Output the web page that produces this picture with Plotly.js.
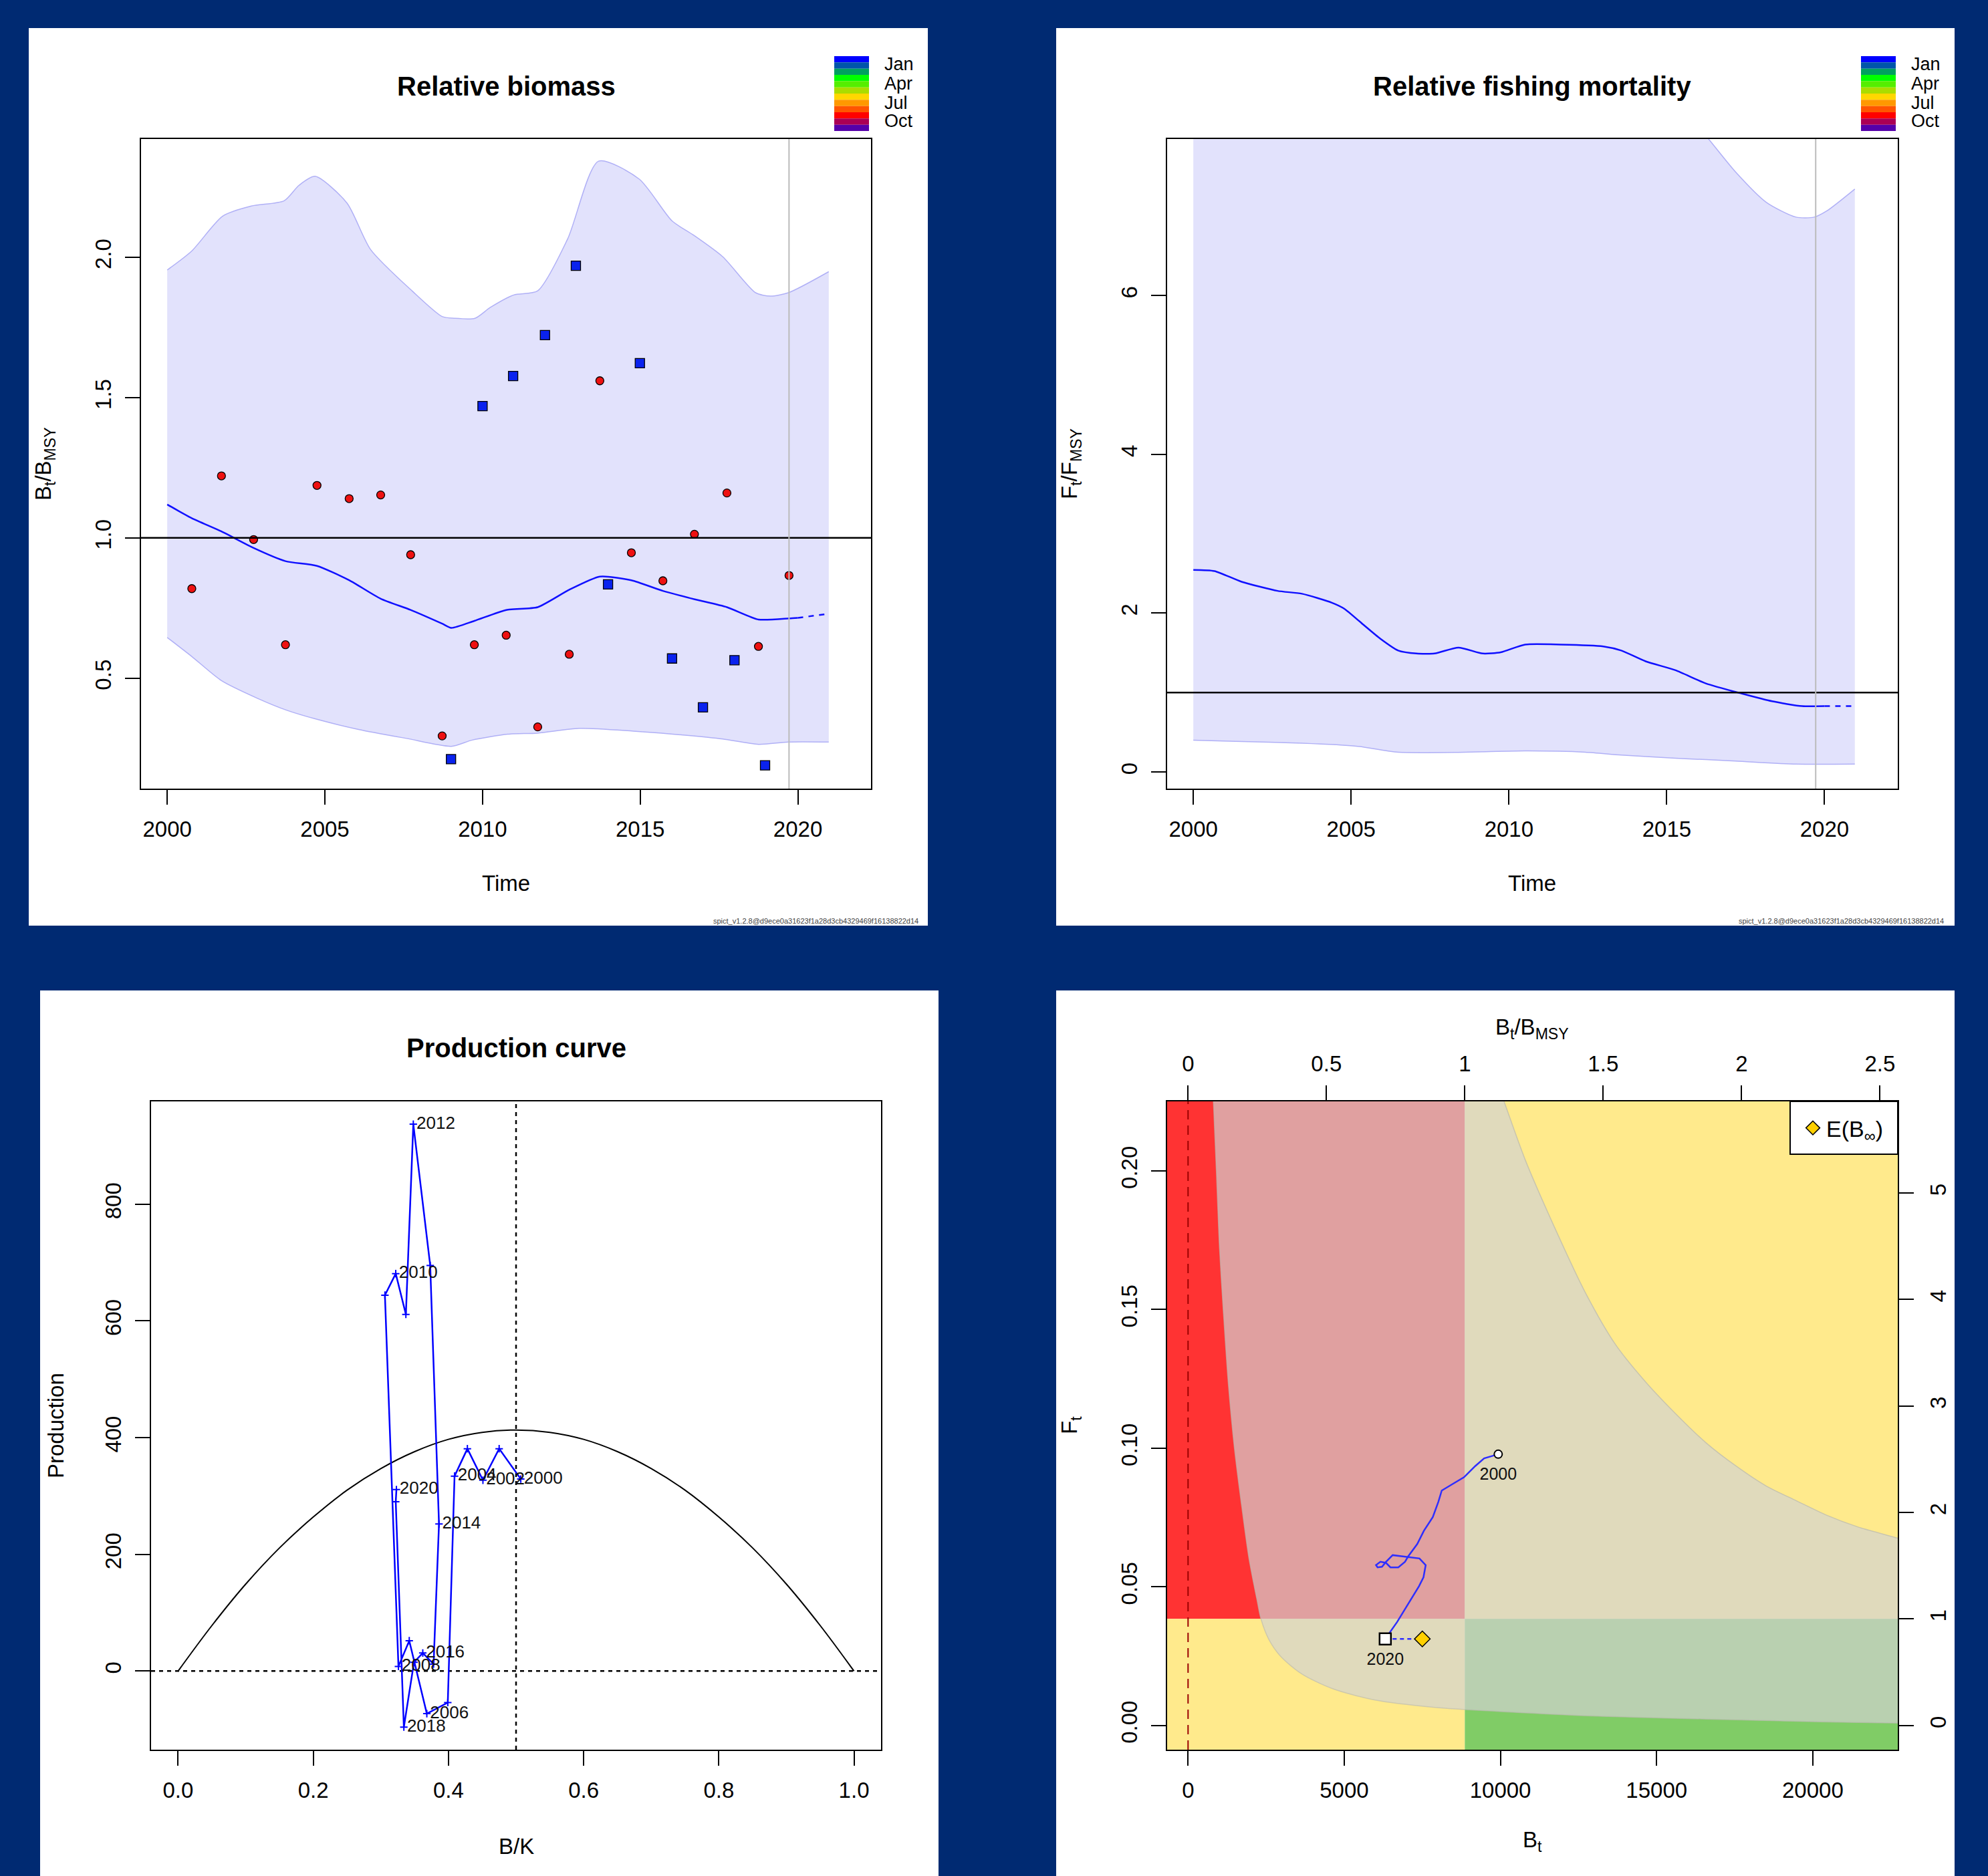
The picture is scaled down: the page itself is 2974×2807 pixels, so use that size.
<!DOCTYPE html>
<html><head><meta charset="utf-8">
<script src="https://cdn.plot.ly/plotly-3.0.1.min.js"></script>
<style>html,body{margin:0;padding:0;background:#002A72;}</style>
</head><body><div id="chart" style="width:2974px;height:2807px;"></div>
<script>
// ---------------- DATA ----------------
// Panel 1: relative biomass B_t/B_MSY
const BIO_T   = [2000.0,2000.78,2001.72,2002.74,2003.75,2004.75,2005.77,2006.77,2007.72,2008.72,2009.01,2009.74,2010.75,2011.75,2012.75,2013.72,2014.72,2015.72,2016.73,2017.75,2018.75,2019.72,2020.0];
const BIO_MED = [1.119,1.070,1.023,0.964,0.917,0.900,0.849,0.783,0.743,0.694,0.679,0.704,0.743,0.753,0.815,0.862,0.849,0.811,0.781,0.753,0.709,0.713,0.715];
const BIO_FC_T = [2020.0,2020.45,2020.9];
const BIO_FC   = [0.715,0.722,0.728];
const BIO_UP_T = [2000.0,2000.78,2001.76,2002.67,2003.71,2004.18,2004.69,2005.70,2006.45,2007.78,2008.72,2009.10,2009.76,2010.24,2010.99,2011.75,2012.70,2013.68,2014.97,2016.01,2016.67,2017.62,2018.66,2019.13,2019.70,2020.98];
const BIO_UP   = [1.955,2.023,2.147,2.183,2.202,2.257,2.289,2.194,2.028,1.879,1.789,1.783,1.783,1.821,1.866,1.881,2.066,2.343,2.279,2.130,2.081,2.002,1.874,1.862,1.874,1.949];
const BIO_LO_T = [2000.0,2000.78,2001.72,2002.86,2003.80,2004.75,2006.07,2007.59,2009.01,2009.67,2010.80,2011.75,2013.07,2014.78,2016.48,2017.62,2018.75,2019.70,2020.98];
const BIO_LO   = [0.645,0.577,0.491,0.428,0.385,0.353,0.317,0.285,0.257,0.279,0.300,0.304,0.321,0.311,0.296,0.283,0.264,0.272,0.272];
// autumn index (red circles)
const IDX1_T = [2000.78,2001.72,2002.74,2003.75,2004.75,2005.77,2006.77,2007.72,2008.72,2009.74,2010.75,2011.75,2012.75,2013.72,2014.72,2015.72,2016.72,2017.75,2018.75,2019.72];
const IDX1   = [0.819,1.221,0.994,0.619,1.187,1.140,1.153,0.940,0.294,0.619,0.653,0.326,0.585,1.560,0.947,0.847,1.013,1.160,0.613,0.866];
// winter index (blue squares)
const IDX2_T = [2009.0,2010.0,2010.97,2011.98,2012.96,2013.98,2014.99,2016.01,2016.99,2017.99,2018.96];
const IDX2   = [0.211,1.470,1.577,1.723,1.970,0.834,1.623,0.570,0.396,0.564,0.189];
const LAST_OBS = 2019.72;

// Panel 2: relative fishing mortality F_t/F_MSY
const FF_T   = [2000.0,2000.67,2001.53,2002.67,2003.44,2004.39,2004.78,2005.35,2005.92,2006.49,2007.07,2007.64,2008.40,2009.17,2009.74,2010.51,2011.65,2012.99,2013.56,2014.33,2015.28,2016.24,2017.38,2018.34,2019.29,2020.0];
const FF_MED = [2.545,2.530,2.395,2.280,2.244,2.131,2.056,1.867,1.679,1.529,1.491,1.491,1.566,1.491,1.506,1.604,1.604,1.581,1.529,1.393,1.280,1.114,0.986,0.889,0.828,0.828];
const FF_FC_T = [2020.0,2020.85];
const FF_FC   = [0.828,0.828];
const FF_UP_T = [2000.0,2005.0,2010.0,2015.0,2016.33,2017.19,2018.15,2019.10,2019.67,2020.06,2020.96];
const FF_UP   = [12.0,11.0,10.0,8.6,7.97,7.553,7.176,6.988,6.988,7.063,7.342];
const FF_LO_T = [2000.0,2001.34,2003.44,2005.16,2006.49,2008.60,2010.51,2012.42,2013.56,2015.28,2017.19,2019.10,2020.96];
const FF_LO   = [0.399,0.384,0.361,0.324,0.248,0.248,0.264,0.248,0.211,0.173,0.136,0.098,0.098];

// Panel 3: production curve
const PC_BK = [0,0.05,0.1,0.15,0.2,0.25,0.3,0.35,0.4,0.45,0.5,0.55,0.6,0.65,0.7,0.75,0.8,0.85,0.9,0.95,1.0];
const PC_P  = [0,78,149,211,264,310,347,376,397,409,413,409,397,376,347,310,264,211,149,78,0];
const PT_YEAR = [2000,2001,2002,2003,2004,2005,2006,2007,2008,2009,2010,2011,2012,2013,2014,2015,2016,2017,2018,2019,2020];
const PT_BK = [0.507,0.475,0.451,0.428,0.409,0.399,0.368,0.342,0.326,0.306,0.322,0.337,0.348,0.373,0.386,0.378,0.362,0.349,0.334,0.322,0.323];
const PT_P  = [329,381,327,381,334,-54,-73,52,8,644,681,611,937,695,252,12,31,15,-96,290,311];

// Panel 4: kobe plot
const BMSY = 8860;
const FMSY = 0.0384;
const KB_B = [9930,9478,9192,8835,8478,8122,8015,7836,7551,7337,7051,6944,6730,6480,6338,6159,6017,6067,6209,6338,6551,7051,7408,7608,7537,7394,7122,6908,6694,6313];
const KB_F = [0.0978,0.0963,0.0935,0.0895,0.0871,0.0847,0.0807,0.0751,0.0702,0.0654,0.0610,0.0590,0.0570,0.0570,0.0586,0.0590,0.0578,0.0570,0.0572,0.0590,0.0614,0.0608,0.0602,0.0578,0.0534,0.0502,0.0453,0.0413,0.0373,0.0312];
const KB_YEARS = ['2000','2020'];
const EBINF_B = 7500, EBINF_F = 0.0312;
// band boundaries (lower-left curve A, upper-right curve C)
const KA_B = [773,811,907,1004,1139,1293,1486,1718,1950,2201,2336,2587,2973,3649,4614,5965,7896,10000,12722,16583,20444,23500];
const KA_F = [0.235,0.225,0.1998,0.1727,0.1477,0.1227,0.0998,0.079,0.0602,0.0456,0.0383,0.031,0.0248,0.0185,0.0133,0.0092,0.0065,0.005,0.0035,0.0023,0.00125,0.0007];
const KC_B = [9794,10116,10792,11757,12722,13687,14653,15618,16583,17548,18514,19479,20444,21409,22722,23500];
const KC_F = [0.235,0.225,0.204,0.179,0.156,0.1373,0.1238,0.1123,0.1019,0.0935,0.0863,0.081,0.0758,0.0717,0.0675,0.065];

const MONTHS = ['Jan','Apr','Jul','Oct'];
const SEASON_COLORS = ['#0000FF','#0055AA','#00A060','#00FF00','#55EE00','#AADD00','#FFD700','#FF9900','#FF5500','#FF0000','#AA0055','#5500AA'];
const VERSION = 'spict_v1.2.8@d9ece0a31623f1a28d3cb4329469f16138822d14';

// ---------------- LAYOUT HELPERS ----------------
const W = 2974, H = 2807;
const FONT = 'Liberation Sans, Arial, sans-serif';
const PX = x => x / W;
const PY = y => 1 - y / H;

const XR1 = [1999.17, 2022.32], YR1 = [0.106, 2.422];
const YR2 = [-0.211, 7.972];
const XR3 = [-0.04, 1.04], YR3 = [-134.7, 976];
const XR4 = [-670, 22721], YR4 = [-0.00875, 0.225];

function ax(extra) {
  return Object.assign({
    showgrid:false, zeroline:false, showline:true, linecolor:'black', linewidth:2, mirror:true,
    ticks:'outside', ticklen:22, tickwidth:2, tickcolor:'black', ticklabelstandoff:8,
    tickfont:{family:FONT, size:33, color:'black'}, fixedrange:true, tickmode:'array'
  }, extra);
}
function ticks(vals, fmt) { return {tickvals: vals, ticktext: vals.map(fmt)}; }

const BAND_LINE = {color:'#B0B0F6', width:1.5, shape:'spline', smoothing:0.7};
const BAND_FILL = 'rgb(226,226,252)';
const traces = [];

// Panel 1
traces.push({x:BIO_LO_T, y:BIO_LO, xaxis:'x', yaxis:'y', mode:'lines', line:BAND_LINE, hoverinfo:'skip', showlegend:false});
traces.push({x:BIO_UP_T, y:BIO_UP, xaxis:'x', yaxis:'y', mode:'lines', line:BAND_LINE, fill:'tonexty', fillcolor:BAND_FILL, hoverinfo:'skip', showlegend:false});
traces.push({x:BIO_T, y:BIO_MED, xaxis:'x', yaxis:'y', mode:'lines', line:{color:'#1010FF', width:2.5, shape:'spline', smoothing:0.6}, showlegend:false});
traces.push({x:BIO_FC_T, y:BIO_FC, xaxis:'x', yaxis:'y', mode:'lines', line:{color:'#1010FF', width:2.5, dash:'8px,8px'}, showlegend:false});
traces.push({x:IDX1_T, y:IDX1, xaxis:'x', yaxis:'y', mode:'markers', marker:{symbol:'circle', size:12, color:'#EE1111', line:{color:'black', width:1.3}}, showlegend:false});
traces.push({x:IDX2_T, y:IDX2, xaxis:'x', yaxis:'y', mode:'markers', marker:{symbol:'square', size:14, color:'#0A22EE', line:{color:'black', width:1.3}}, showlegend:false});

// Panel 2
traces.push({x:FF_LO_T, y:FF_LO, xaxis:'x2', yaxis:'y2', mode:'lines', line:BAND_LINE, hoverinfo:'skip', showlegend:false});
traces.push({x:FF_UP_T, y:FF_UP, xaxis:'x2', yaxis:'y2', mode:'lines', line:BAND_LINE, fill:'tonexty', fillcolor:BAND_FILL, hoverinfo:'skip', showlegend:false});
traces.push({x:FF_T, y:FF_MED, xaxis:'x2', yaxis:'y2', mode:'lines', line:{color:'#1010FF', width:2.5, shape:'spline', smoothing:0.6}, showlegend:false});
traces.push({x:FF_FC_T, y:FF_FC, xaxis:'x2', yaxis:'y2', mode:'lines', line:{color:'#1010FF', width:2.5, dash:'8px,8px'}, showlegend:false});

// Panel 3
traces.push({x:PC_BK, y:PC_P, xaxis:'x3', yaxis:'y3', mode:'lines', line:{color:'black', width:2, shape:'spline'}, showlegend:false});
traces.push({x:PT_BK, y:PT_P, xaxis:'x3', yaxis:'y3', mode:'lines+markers',
  line:{color:'#0000FF', width:2.5}, marker:{symbol:'cross-thin', size:8, color:'#0000FF', line:{color:'#0000FF', width:2}}, showlegend:false});
const evenIdx = PT_YEAR.map((y, i) => i).filter(i => PT_YEAR[i] % 2 === 0);
traces.push({x:evenIdx.map(i => PT_BK[i]), y:evenIdx.map(i => PT_P[i]), xaxis:'x3', yaxis:'y3', mode:'markers+text',
  text: evenIdx.map(i => String(PT_YEAR[i])), textposition:'middle right',
  textfont:{family:FONT, size:26, color:'#111'}, marker:{size:6, color:'rgba(0,0,0,0)'}, hoverinfo:'skip', showlegend:false});

// Panel 4
traces.push({x:KA_B, y:KA_F, xaxis:'x4', yaxis:'y4', mode:'lines', line:{color:'rgba(185,185,175,0.6)', width:1.5, shape:'spline', smoothing:0.8}, hoverinfo:'skip', showlegend:false});
traces.push({x:KC_B, y:KC_F, xaxis:'x4', yaxis:'y4', mode:'lines', fill:'tonexty', fillcolor:'rgba(210,210,210,0.69)', line:{color:'rgba(185,185,175,0.7)', width:1.5, shape:'spline', smoothing:0.8}, hoverinfo:'skip', showlegend:false});
traces.push({x:KB_B, y:KB_F, xaxis:'x4', yaxis:'y4', mode:'lines', line:{color:'#2E2EFF', width:2.5}, showlegend:false});
traces.push({x:[KB_B[KB_B.length-1], EBINF_B], y:[KB_F[KB_F.length-1], EBINF_F], xaxis:'x4', yaxis:'y4', mode:'lines', line:{color:'#2E2EFF', width:2.5, dash:'6px,5px'}, showlegend:false});
traces.push({x:[KB_B[0]], y:[KB_F[0]], xaxis:'x4', yaxis:'y4', mode:'markers', marker:{symbol:'circle', size:12, color:'white', line:{color:'black', width:2}}, showlegend:false});
traces.push({x:[KB_B[KB_B.length-1]], y:[KB_F[KB_F.length-1]], xaxis:'x4', yaxis:'y4', mode:'markers', marker:{symbol:'square', size:17, color:'white', line:{color:'black', width:2.5}}, showlegend:false});
traces.push({x:[KB_B[0], KB_B[KB_B.length-1]], y:[KB_F[0], KB_F[KB_F.length-1]], xaxis:'x4', yaxis:'y4', mode:'markers+text', text:KB_YEARS, textposition:'bottom center', textfont:{family:FONT, size:25, color:'#111'}, marker:{size:30, color:'rgba(0,0,0,0)'}, hoverinfo:'skip', showlegend:false});
traces.push({x:[EBINF_B], y:[EBINF_F], xaxis:'x4', yaxis:'y4', mode:'markers', name:'E(B<sub>∞</sub>)', marker:{symbol:'diamond', size:18, color:'#FFD000', line:{color:'black', width:1.5}}, showlegend:true});
traces.push({x:[KB_B[0]/BMSY], y:[KB_F[0]/FMSY], xaxis:'x5', yaxis:'y5', mode:'markers', marker:{opacity:0}, hoverinfo:'skip', showlegend:false});

// ---------------- SHAPES ----------------
const shapes = [];
const panels = [[43,42,1388,1385],[1580,42,2924,1385],[60,1482,1404,2830],[1580,1482,2924,2830]];
panels.forEach(p => shapes.push({type:'rect', xref:'paper', yref:'paper', x0:PX(p[0]), x1:PX(p[2]), y0:PY(p[3]), y1:PY(p[1]), fillcolor:'white', line:{width:0}, layer:'below'}));

// season colour bars
[[1248,1300],[2784,2836]].forEach(xx => {
  const top = 84, step = 112 / SEASON_COLORS.length;
  SEASON_COLORS.forEach((c, i) => shapes.push({type:'rect', xref:'paper', yref:'paper', x0:PX(xx[0]), x1:PX(xx[1]), y0:PY(top + (i+1)*step), y1:PY(top + i*step), fillcolor:c, line:{width:0}, layer:'above'}));
});

// panel 1 & 2 reference lines
shapes.push({type:'line', xref:'x domain', yref:'y', x0:0, x1:1, y0:1, y1:1, line:{color:'black', width:2.5}, layer:'above'});
shapes.push({type:'line', xref:'x', yref:'y domain', x0:LAST_OBS, x1:LAST_OBS, y0:0, y1:1, line:{color:'#BBBBBB', width:2}, layer:'above'});
shapes.push({type:'line', xref:'x2 domain', yref:'y2', x0:0, x1:1, y0:1, y1:1, line:{color:'black', width:2.5}, layer:'above'});
shapes.push({type:'line', xref:'x2', yref:'y2 domain', x0:LAST_OBS, x1:LAST_OBS, y0:0, y1:1, line:{color:'#BBBBBB', width:2}, layer:'above'});
// panel 3 dotted reference lines
shapes.push({type:'line', xref:'x3', yref:'y3', x0:XR3[0], x1:XR3[1], y0:0, y1:0, line:{color:'black', width:2.5, dash:'6px,6px'}, layer:'below'});
shapes.push({type:'line', xref:'x3', yref:'y3', x0:0.5, x1:0.5, y0:YR3[0], y1:YR3[1], line:{color:'black', width:2.5, dash:'6px,6px'}, layer:'below'});
// panel 4 kobe quadrants
const RED='#FF3333', YEL='#FFEA8C', GRN='#80CC66';
shapes.push({type:'rect', xref:'x4', yref:'y4', x0:XR4[0], x1:BMSY, y0:FMSY, y1:YR4[1], fillcolor:RED, line:{width:0}, layer:'below'});
shapes.push({type:'rect', xref:'x4', yref:'y4', x0:BMSY, x1:XR4[1], y0:FMSY, y1:YR4[1], fillcolor:YEL, line:{width:0}, layer:'below'});
shapes.push({type:'rect', xref:'x4', yref:'y4', x0:XR4[0], x1:BMSY, y0:YR4[0], y1:FMSY, fillcolor:YEL, line:{width:0}, layer:'below'});
shapes.push({type:'rect', xref:'x4', yref:'y4', x0:BMSY, x1:XR4[1], y0:YR4[0], y1:FMSY, fillcolor:GRN, line:{width:0}, layer:'below'});
shapes.push({type:'line', xref:'x4', yref:'y4', x0:0, x1:0, y0:YR4[0], y1:YR4[1], line:{color:'#9B0000', width:2, dash:'14px,9px'}, layer:'below'});
// legend frame for E(B_inf)
shapes.push({type:'rect', xref:'paper', yref:'paper', x0:PX(2678), x1:PX(2839), y0:PY(1727), y1:PY(1648), fillcolor:'white', line:{color:'black', width:2}, layer:'above'});

// ---------------- ANNOTATIONS ----------------
const anns = [];
function A(text, x, y, size, extra) {
  anns.push(Object.assign({xref:'paper', yref:'paper', x:PX(x), y:PY(y), text:text, showarrow:false, xanchor:'center', yanchor:'middle', font:{family:FONT, size:size, color:'black'}}, extra || {}));
}
A('<b>Relative biomass</b>', 757, 129, 40);
A('<b>Relative fishing mortality</b>', 2292, 129, 40);
A('<b>Production curve</b>', 772, 1568, 40);
A('Time', 757, 1321, 33);
A('Time', 2292, 1321, 33);
A('B/K', 772, 2762, 33);
A('B<sub>t</sub>/B<sub>MSY</sub>', 67, 694, 33, {textangle:-90});
A('F<sub>t</sub>/F<sub>MSY</sub>', 1602, 694, 33, {textangle:-90});
A('Production', 83, 2133, 33, {textangle:-90});
A('F<sub>t</sub>', 1602, 2133, 33, {textangle:-90});
A('B<sub>t</sub>/B<sub>MSY</sub>', 2292, 1539, 33);
A('B<sub>t</sub>', 2292, 2755, 33);
const monthY = [96,125,154,181];
MONTHS.forEach((m, i) => { A(m, 1321, monthY[i], 27, {xanchor:'left'}); A(m, 2857, monthY[i], 27, {xanchor:'left'}); });
A(VERSION, 1376, 1378, 11, {xanchor:'right', font:{family:FONT, size:11, color:'#444'}});
A(VERSION, 2910, 1378, 11, {xanchor:'right', font:{family:FONT, size:11, color:'#444'}});

// ---------------- LAYOUT ----------------
const dx = (a, b) => [PX(a), PX(b)];
const dy = (top, bot) => [PY(bot), PY(top)];
const yrTicks = ticks([2000,2005,2010,2015,2020], String);

const layout = {
  width:W, height:H, margin:{l:0, r:0, t:0, b:0},
  paper_bgcolor:'#002A72', plot_bgcolor:'white',
  font:{family:FONT, color:'black'},
  showlegend:true,
  legend:{x:PX(2757), y:PY(1688), xanchor:'center', yanchor:'middle', bgcolor:'rgba(0,0,0,0)', borderwidth:0,
          font:{family:FONT, size:34, color:'black'}, itemwidth:30, tracegroupgap:0},
  xaxis: ax(Object.assign({domain:dx(211,1303), range:XR1, anchor:'y'}, yrTicks)),
  yaxis: ax(Object.assign({domain:dy(208,1180), range:YR1, anchor:'x', tickangle:-90}, ticks([0.5,1.0,1.5,2.0], v => v.toFixed(1)))),
  xaxis2: ax(Object.assign({domain:dx(1746,2839), range:XR1, anchor:'y2'}, yrTicks)),
  yaxis2: ax(Object.assign({domain:dy(208,1180), range:YR2, anchor:'x2', tickangle:-90}, ticks([0,2,4,6], String))),
  xaxis3: ax(Object.assign({domain:dx(226,1318), range:XR3, anchor:'y3'}, ticks([0,0.2,0.4,0.6,0.8,1.0], v => v.toFixed(1)))),
  yaxis3: ax(Object.assign({domain:dy(1648,2618), range:YR3, anchor:'x3', tickangle:-90}, ticks([0,200,400,600,800], String))),
  xaxis4: ax(Object.assign({domain:dx(1746,2839), range:XR4, anchor:'y4'}, ticks([0,5000,10000,15000,20000], String))),
  yaxis4: ax(Object.assign({domain:dy(1648,2618), range:YR4, anchor:'x4', tickangle:-90}, ticks([0,0.05,0.10,0.15,0.20], v => v.toFixed(2)))),
  xaxis5: ax(Object.assign({overlaying:'x4', side:'top', anchor:'y4', mirror:false, range:[XR4[0]/BMSY, XR4[1]/BMSY]}, ticks([0,0.5,1,1.5,2,2.5], String))),
  yaxis5: ax(Object.assign({overlaying:'y4', side:'right', anchor:'x4', mirror:false, range:[YR4[0]/FMSY, YR4[1]/FMSY], tickangle:-90}, ticks([0,1,2,3,4,5], String))),
  shapes: shapes,
  annotations: anns
};

Plotly.newPlot('chart', traces, layout, {displayModeBar:false, staticPlot:true});
</script></body></html>
